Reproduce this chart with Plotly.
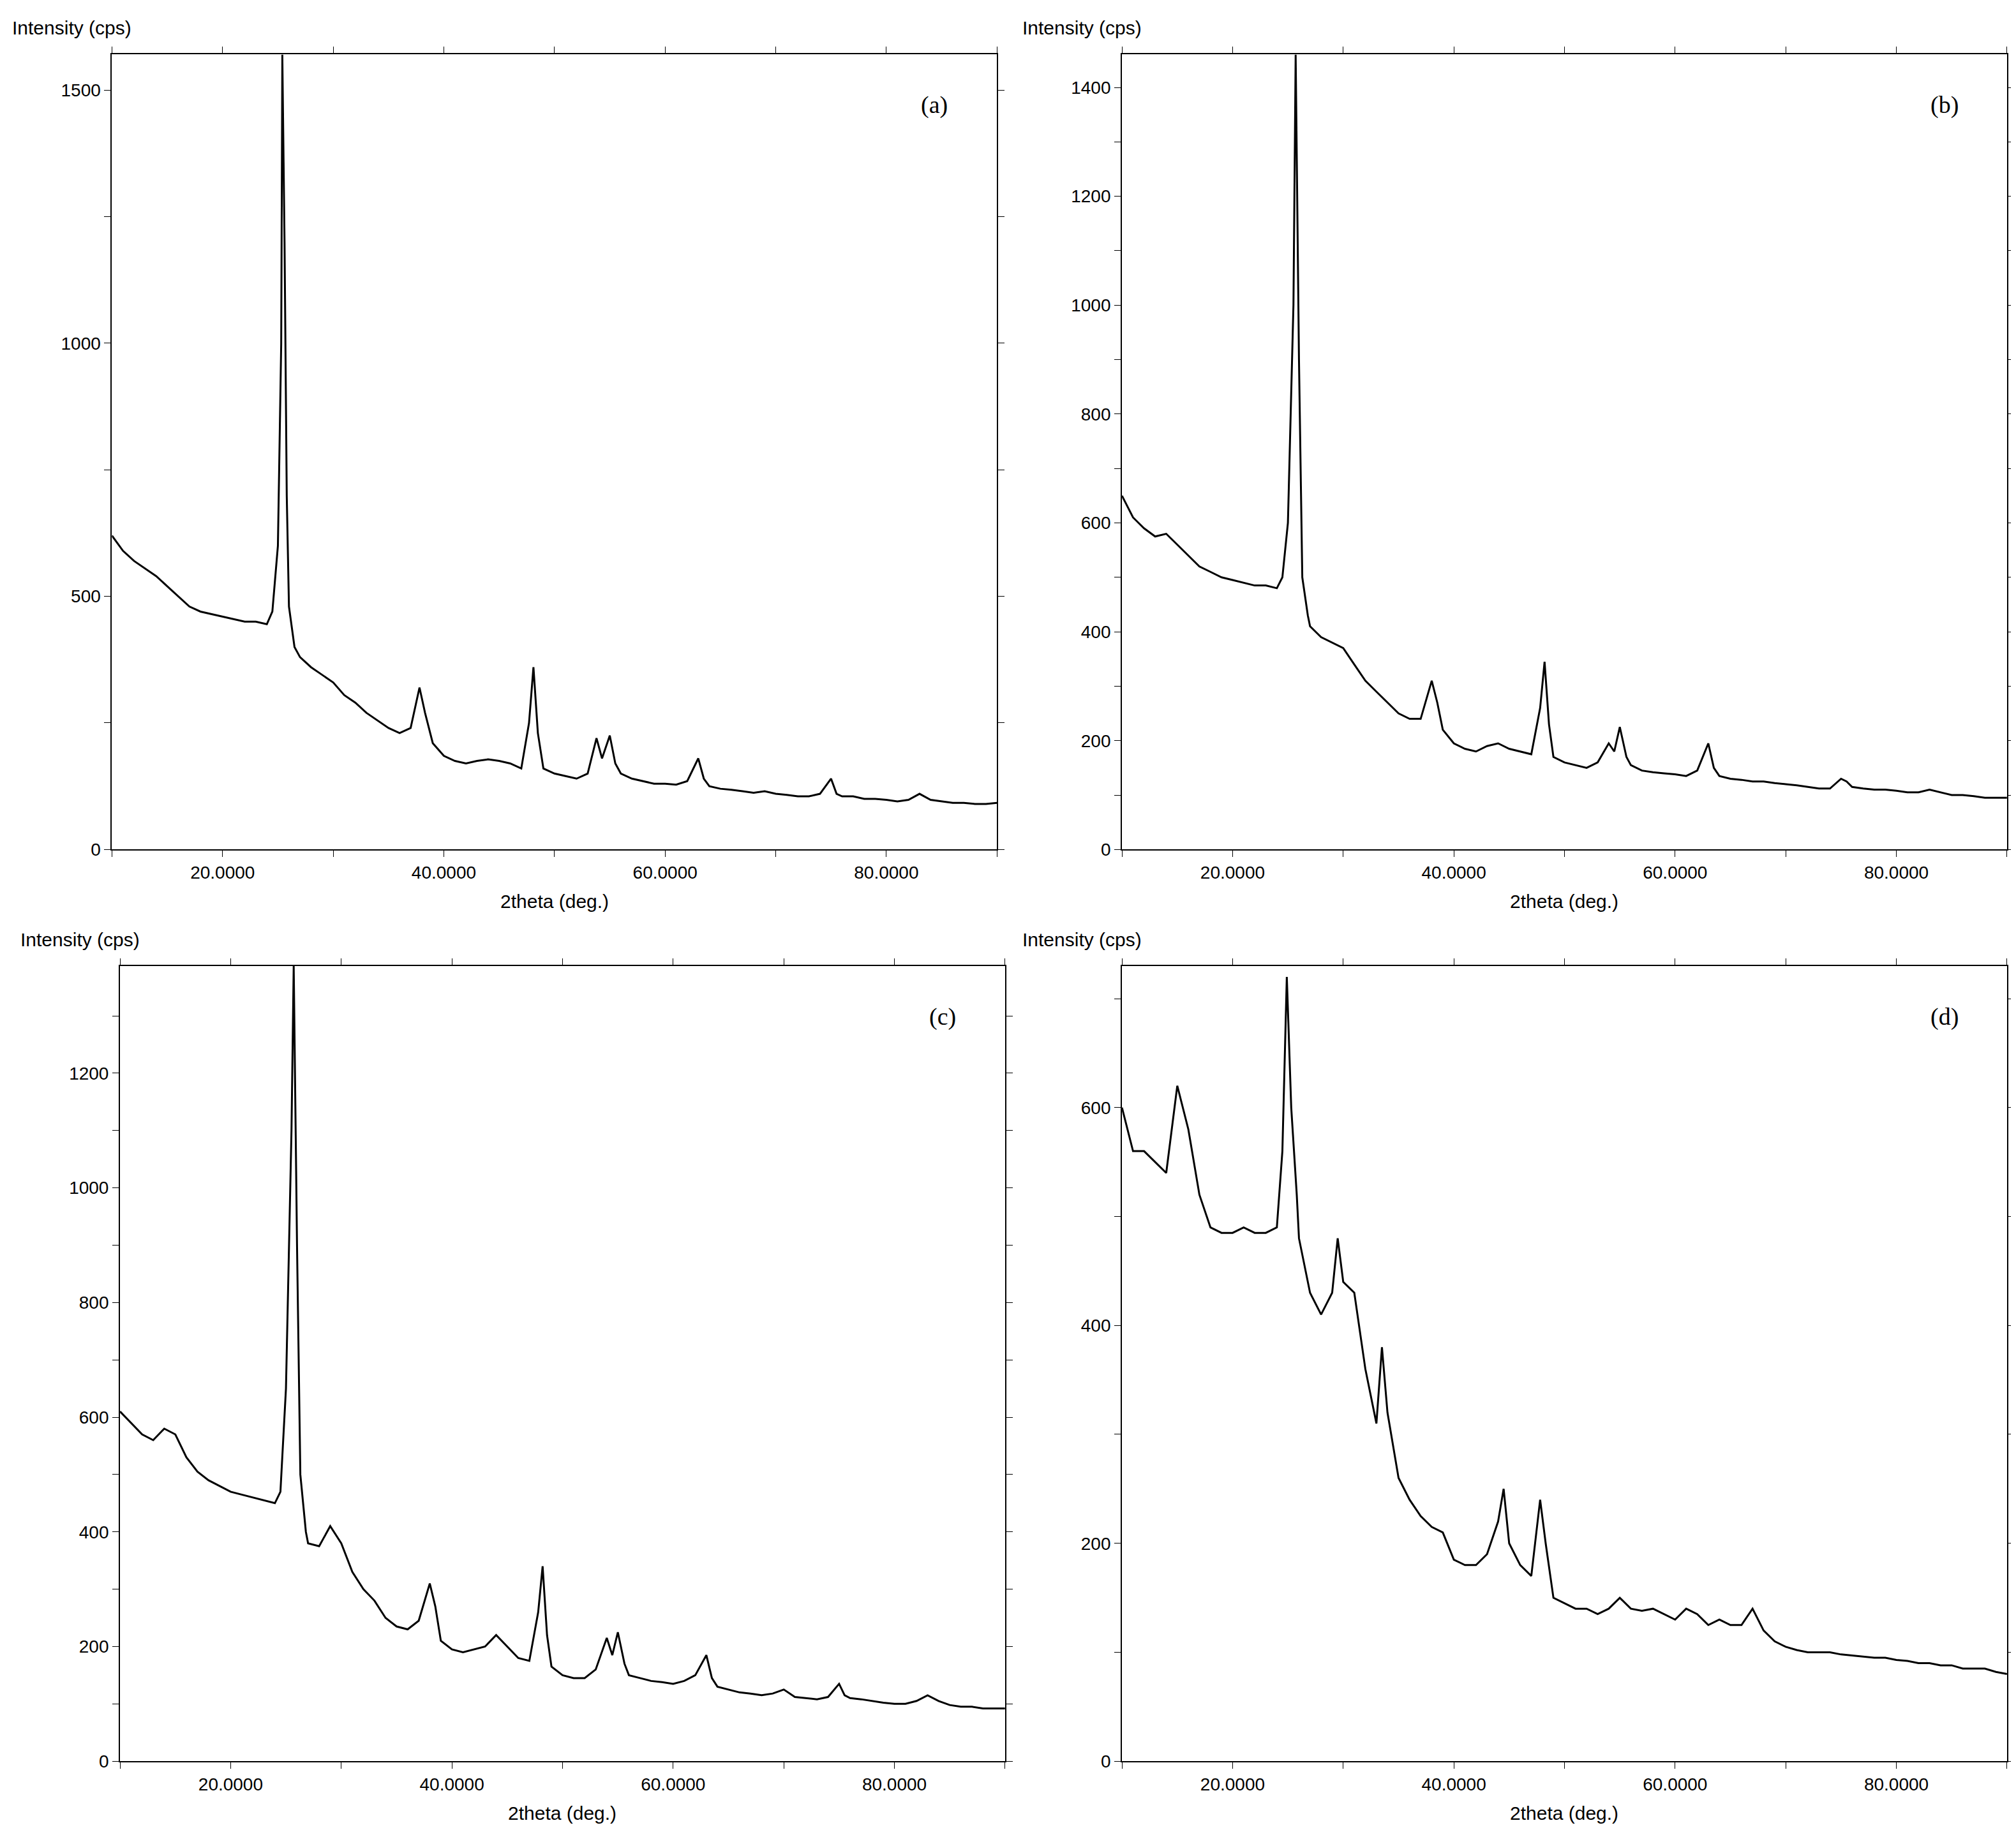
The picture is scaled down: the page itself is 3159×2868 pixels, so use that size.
import plotly.graph_objects as go

xa=[10,11,12,13,14,15,16,17,18,19,20,21,22,23,24,24.5,25,25.3,25.4,25.6,25.8,26,26.5,27,28,29,30,31,32,33,34,35,36,37,37.8,38.3,39,40,41,42,43,44,45,46,47,47.7,48.1,48.5,49,50,51,52,53,53.8,54.3,55,55.5,56,57,58,59,60,61,62,63,63.5,64,65,66,67,68,69,70,71,72,73,74,75,75.5,76,77,78,79,80,81,82,83,84,85,86,87,88,89,90]
ya=[620,590,570,555,540,520,500,480,470,465,460,455,450,450,445,470,600,1000,1570,1200,700,480,400,380,360,345,330,305,290,270,255,240,230,240,320,270,210,185,175,170,175,178,175,170,160,250,360,230,160,150,145,140,150,220,180,225,170,150,140,135,130,130,128,135,180,140,125,120,118,115,112,115,110,108,105,105,110,140,110,105,105,100,100,98,95,98,110,98,95,92,92,90,90,92]
xb=[10,11,12,13,14,15,16,17,18,19,20,21,22,23,24,24.5,25,25.5,25.7,26,26.3,26.8,27,28,29,30,31,32,33,34,35,36,37,38,38.5,39,40,41,42,43,44,45,46,47,47.8,48.2,48.6,49,50,51,52,53,54,54.5,55,55.6,56,57,58,59,60,61,62,63,63.5,64,65,66,67,68,69,70,71,72,73,74,75,75.5,76,77,78,79,80,81,82,83,84,85,86,87,88,89,90]
yb=[650,610,590,575,580,560,540,520,510,500,495,490,485,485,480,500,600,1000,1460,900,500,430,410,390,380,370,340,310,290,270,250,240,240,310,270,220,195,185,180,190,195,185,180,175,260,345,230,170,160,155,150,160,195,180,225,170,155,145,142,140,138,135,145,195,150,135,130,128,125,125,122,120,118,115,112,112,130,125,115,112,110,110,108,105,105,110,105,100,100,98,95,95,95]
xc=[10,11,12,13,14,15,16,17,18,19,20,21,22,23,24,24.5,25,25.5,25.7,26,26.3,26.8,27,28,29,30,31,32,33,34,35,36,37,38,38.5,39,40,41,42,43,44,45,46,47,47.8,48.2,48.6,49,50,51,52,53,54,54.5,55,55.6,56,57,58,59,60,61,62,63,63.5,64,65,66,67,68,69,70,71,72,73,74,75,75.5,76,77,78,79,80,81,82,83,84,85,86,87,88,89,90]
yc=[610,590,570,560,580,570,530,505,490,480,470,465,460,455,450,470,650,1100,1387,900,500,400,380,375,410,380,330,300,280,250,235,230,245,310,270,210,195,190,195,200,220,200,180,175,260,340,220,165,150,145,145,160,215,185,225,170,150,145,140,138,135,140,150,185,145,130,125,120,118,115,118,125,112,110,108,112,135,115,110,108,105,102,100,100,105,115,105,98,95,95,92,92,92]
xd=[10,11,12,13,14,15,16,17,18,19,20,21,22,23,24,24.5,24.9,25.3,25.8,26,27,28,29,29.5,30,31,32,33,33.5,34,35,36,37,38,39,40,41,42,43,44,44.5,45,46,47,47.8,48.3,49,50,51,52,53,54,55,56,57,58,59,60,61,62,63,64,65,66,67,68,69,70,71,72,73,74,75,76,77,78,79,80,81,82,83,84,85,86,87,88,89,90]
yd=[600,560,560,550,540,620,580,520,490,485,485,490,485,485,490,560,720,600,520,480,430,410,430,480,440,430,360,310,380,320,260,240,225,215,210,185,180,180,190,220,250,200,180,170,240,200,150,145,140,140,135,140,150,140,138,140,135,130,140,135,125,130,125,125,140,120,110,105,102,100,100,100,98,97,96,95,95,93,92,90,90,88,88,85,85,85,82,80]

panels=[("(a)",xa,ya,[0.053,0.492],[0.536,0.973],1571,[0,500,1000,1500],250),
        ("(b)",xb,yb,[0.554,0.993],[0.536,0.973],1461,[0,200,400,600,800,1000,1200,1400],100),
        ("(c)",xc,yc,[0.057,0.496],[0.035,0.472],1387,[0,200,400,600,800,1000,1200],100),
        ("(d)",xd,yd,[0.554,0.993],[0.035,0.472],730,[0,200,400,600],100)]
fig=go.Figure()
lay=dict(width=3159,height=2868,margin=dict(l=0,r=0,t=0,b=0),plot_bgcolor="white",paper_bgcolor="white",showlegend=False,annotations=[])
for i,(lab,x,y,dx,dy,top,yt,ym) in enumerate(panels):
    n="" if i==0 else str(i+1)
    fig.add_trace(go.Scatter(x=x,y=y,mode="lines",line=dict(color="black",width=3),xaxis="x"+n,yaxis="y"+n))
    ax=dict(showgrid=False,zeroline=False,showline=True,linecolor="black",linewidth=2,mirror="allticks",ticks="outside",ticklen=10,tickcolor="black",tickfont=dict(family="Liberation Sans",size=28,color="black"))
    lay["xaxis"+n]=dict(ax,domain=dx,anchor="y"+n,range=[10,90],tickvals=[20,40,60,80],ticktext=["20.0000","40.0000","60.0000","80.0000"],minor=dict(dtick=10,tick0=10,ticks="outside",ticklen=10,tickcolor="black"))
    lay["yaxis"+n]=dict(ax,domain=dy,anchor="x"+n,range=[0,top],tickvals=yt,minor=dict(dtick=ym,ticks="outside",ticklen=10,tickcolor="black"))
    lay["annotations"]+= [
        dict(text="Intensity (cps)",xref="paper",yref="paper",x=dx[0]-0.05,y=dy[1]+0.008,xanchor="left",yanchor="bottom",showarrow=False,font=dict(family="Liberation Sans",size=30,color="black")),
        dict(text="2theta (deg.)",xref="paper",yref="paper",x=(dx[0]+dx[1])/2,y=dy[0]-0.022,xanchor="center",yanchor="top",showarrow=False,font=dict(family="Liberation Sans",size=30,color="black")),
        dict(text=lab,xref="paper",yref="paper",x=dx[1]-0.031,y=dy[1]-0.028,xanchor="center",yanchor="middle",showarrow=False,font=dict(family="Liberation Serif",size=38,color="black"))]
fig.update_layout(**lay)
fig.write_html("out.html")
